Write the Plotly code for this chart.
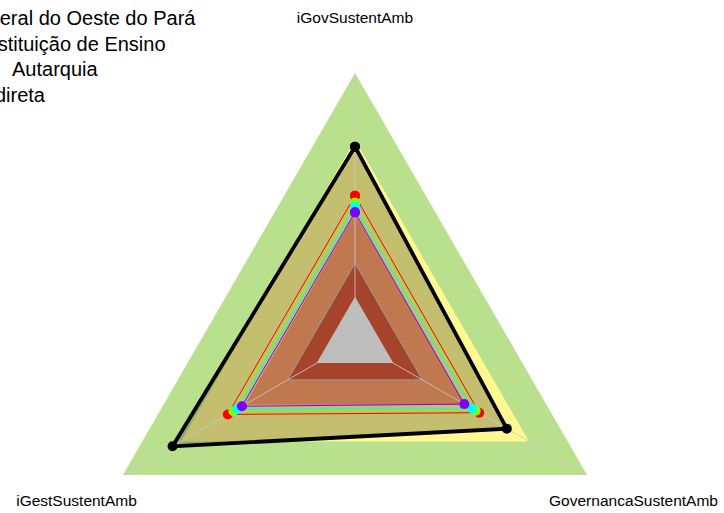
import plotly.graph_objects as go

categorias = ["iGovSustentAmb", "iGestSustentAmb", "GovernancaSustentAmb"]

# faixas de referência (nível externo de cada faixa) e cores
faixas = [1.0, 0.75]
cores_faixas = ["#B9E08D", "#FFF791"]
faixas_internas = [0.475, 0.29, 0.165]
cores_internas = ["#C0784F", "#A6432B", "#BEBEBE"]

instituicao = [0.725, 0.786, 0.654]
serie_vermelha = [0.542, 0.548, 0.535]
serie_verde = [0.516, 0.524, 0.520]
serie_ciano = [0.499, 0.506, 0.504]
serie_roxa = [0.480, 0.487, 0.471]
cores_series = ["#FF0000", "#80FF00", "#00FFFF", "#8000FF"]

titulo = ["Universidade Federal do Oeste do Pará", "Instituição de Ensino",
          "Autarquia", "Administração Indireta"]

W, H = 724, 672
fonte = "Liberation Sans, Arial, sans-serif"
r_rotulo = 1.2
r_max = 1.21

theta = categorias + categorias[:1]


def fechar(v):
    return list(v) + [v[0]]


fig = go.Figure()

for nivel, cor in zip(faixas, cores_faixas):
    fig.add_trace(go.Scatterpolar(r=fechar([nivel] * 3), theta=theta, mode="lines",
                                  fill="toself", fillcolor=cor, line=dict(width=0, color=cor)))

# preenchimento translúcido da instituição
fig.add_trace(go.Scatterpolar(r=fechar(instituicao), theta=theta, mode="lines",
                              fill="toself", fillcolor="rgba(0,0,0,0.23)",
                              line=dict(width=0, color="rgba(0,0,0,0)")))

fig.add_trace(go.Scatterpolar(r=fechar([faixas_internas[0]] * 3), theta=theta, mode="lines",
                              fill="toself", fillcolor=cores_internas[0],
                              line=dict(width=0, color=cores_internas[0])))
fig.add_trace(go.Scatterpolar(r=fechar([faixas_internas[1]] * 3), theta=theta, mode="lines",
                              fill="toself", fillcolor=cores_internas[1],
                              line=dict(width=1, color="#9A9A9A")))

# eixos radiais
for c in categorias:
    fig.add_trace(go.Scatterpolar(r=[0, 1], theta=[c, c], mode="lines",
                                  line=dict(width=1, color="rgba(200,200,200,0.85)")))

fig.add_trace(go.Scatterpolar(r=fechar([faixas_internas[2]] * 3), theta=theta, mode="lines",
                              fill="toself", fillcolor=cores_internas[2],
                              line=dict(width=0, color=cores_internas[2])))

for serie, cor in zip([serie_vermelha, serie_verde, serie_ciano, serie_roxa], cores_series):
    fig.add_trace(go.Scatterpolar(r=fechar(serie), theta=theta, mode="lines+markers",
                                  line=dict(width=1, color=cor),
                                  marker=dict(size=10, color=cor)))

fig.add_trace(go.Scatterpolar(r=fechar(instituicao), theta=theta, mode="lines+markers",
                              line=dict(width=3.8, color="black"),
                              marker=dict(size=10, color="black")))

# rótulos dos eixos
fig.add_trace(go.Scatterpolar(r=[r_rotulo] * 3, theta=categorias, mode="text", text=categorias,
                              textfont=dict(size=15.5, color="black", family=fonte),
                              cliponaxis=False))

cx, cy, R = 355, 341, 268 * r_max
fig.update_layout(
    width=W, height=H,
    margin=dict(l=0, r=0, t=0, b=0),
    paper_bgcolor="white",
    showlegend=False,
    polar=dict(
        domain=dict(x=[(cx - R) / W, (cx + R) / W],
                    y=[(H - cy - R) / H, (H - cy + R) / H]),
        gridshape="linear",
        bgcolor="rgba(0,0,0,0)",
        radialaxis=dict(range=[0, r_max], visible=False),
        angularaxis=dict(direction="counterclockwise", rotation=90,
                         showticklabels=False, showline=False, showgrid=False, ticks=""),
    ),
)

fim_x = [198, 168, 100, 48]
linha_y = [18, 44, 69, 95]
for txt, x, y in zip(titulo, fim_x, linha_y):
    fig.add_annotation(text=txt, xref="paper", yref="paper", x=x / W,
                       y=(H - y) / H,
                       xanchor="right", yanchor="middle", showarrow=False,
                       font=dict(size=20, color="black", family=fonte))

# a página começa no canto da janela (sem a margem padrão do body)
fig.write_html("out.html", config={"displayModeBar": False},
               post_script="document.body.style.margin='0';")
